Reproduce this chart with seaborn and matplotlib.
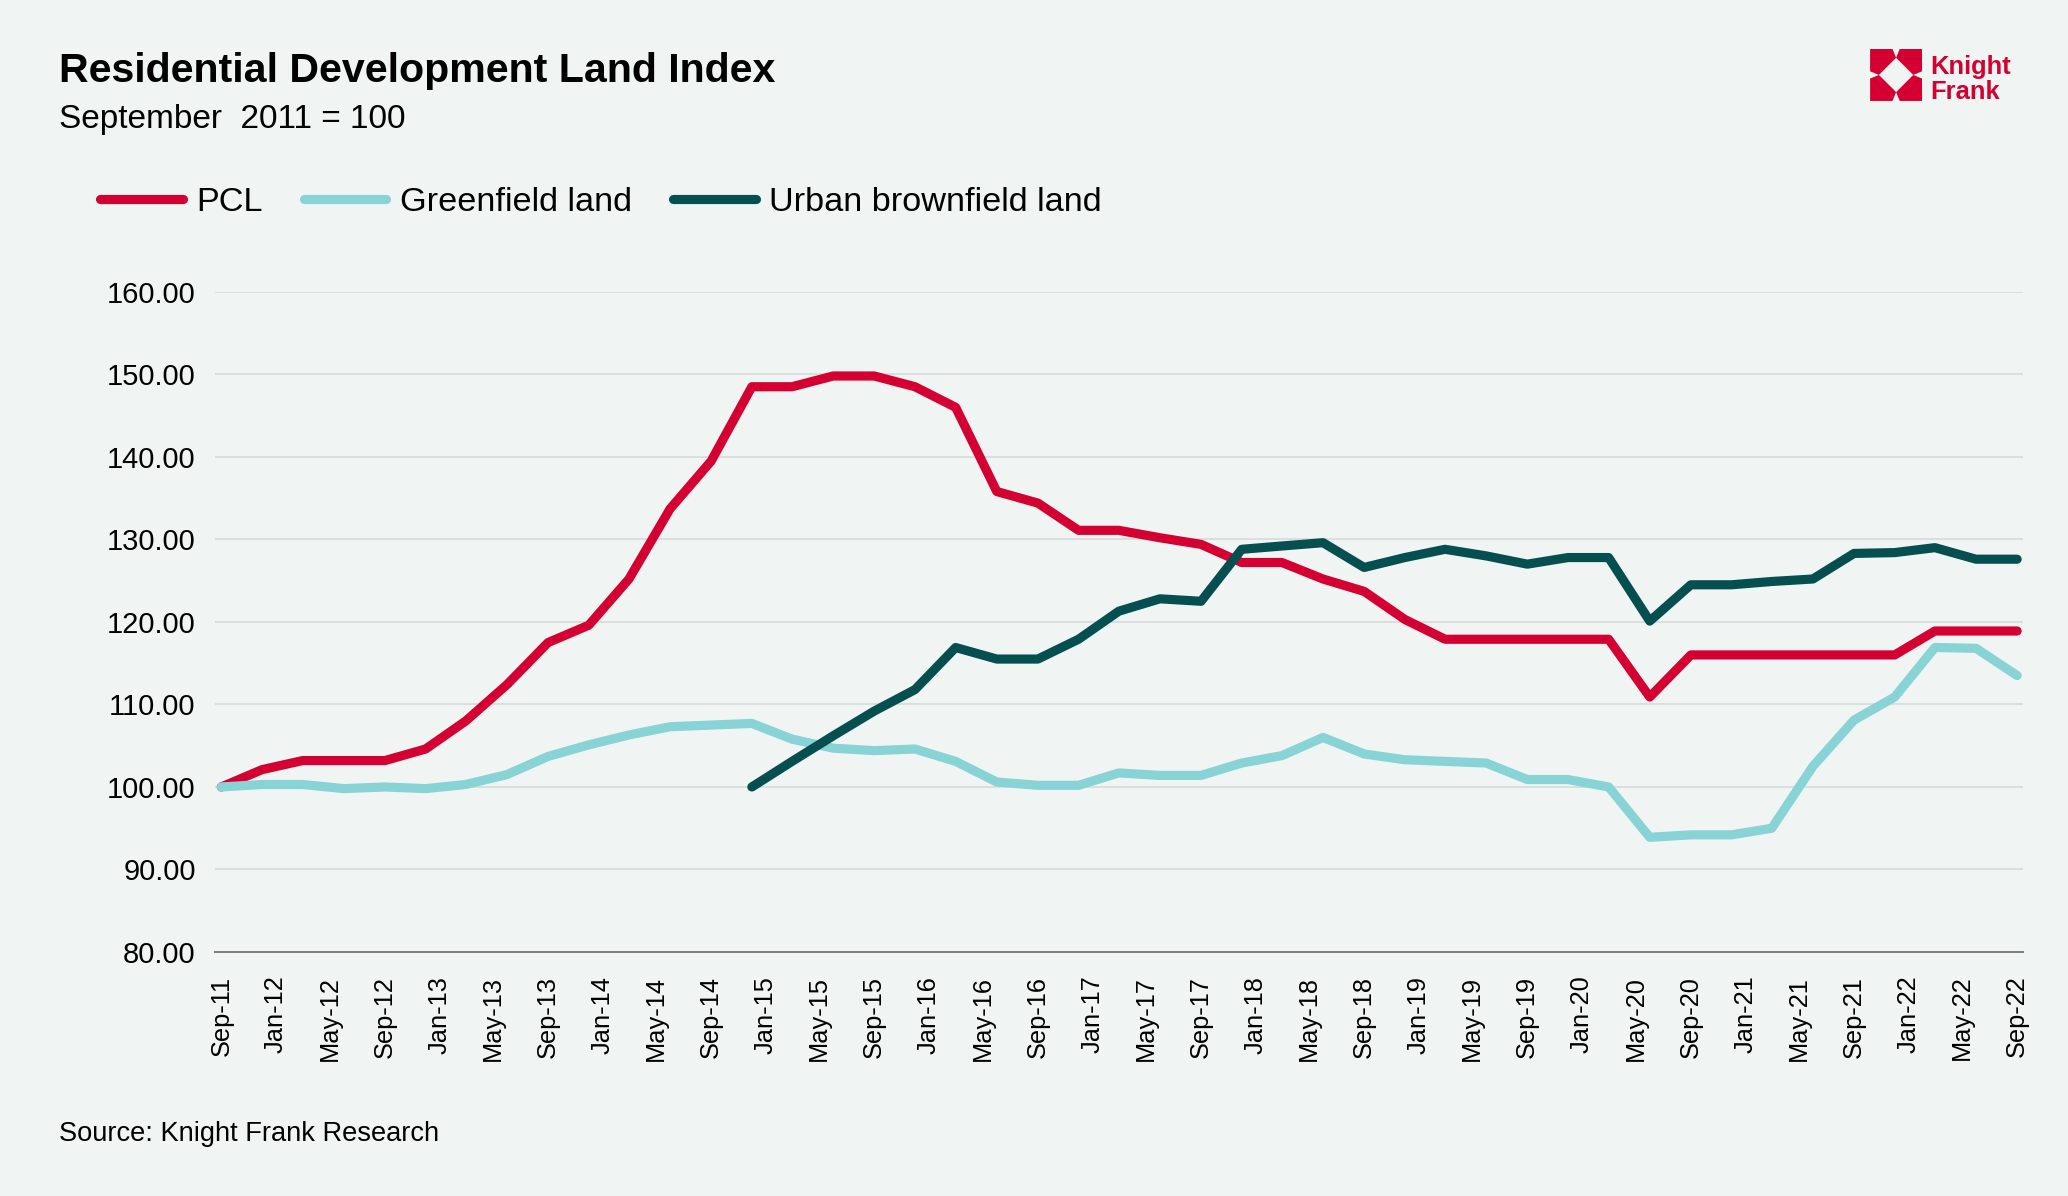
import numpy as np
import pandas as pd
import matplotlib
matplotlib.use('Agg')
import matplotlib.pyplot as plt
import matplotlib.dates as mdates
from matplotlib.patches import Polygon
import seaborn as sns

# quarterly index values, Sep-11 .. Sep-22
dates = pd.date_range('2011-09-01', '2022-09-01', freq='3MS')
pcl = [100.0, 102.1, 103.2, 103.2, 103.2, 104.6, 108.0, 112.4, 117.5, 119.6,
       125.2, 133.7, 139.5, 148.5, 148.5, 149.8, 149.8, 148.5, 146.0, 135.8,
       134.4, 131.1, 131.1, 130.2, 129.4, 127.2, 127.2, 125.2, 123.7, 120.3,
       117.9, 117.9, 117.9, 117.9, 117.9, 110.9, 116.0, 116.0, 116.0, 116.0,
       116.0, 116.0, 118.9, 118.9, 118.9]
greenfield = [100.0, 100.3, 100.3, 99.8, 100.0, 99.8, 100.3, 101.5, 103.7, 105.1,
              106.3, 107.3, 107.5, 107.7, 105.8, 104.7, 104.4, 104.6, 103.1, 100.6,
              100.2, 100.2, 101.7, 101.4, 101.4, 102.9, 103.8, 106.0, 104.0, 103.3,
              103.1, 102.9, 100.9, 100.9, 100.0, 93.9, 94.2, 94.2, 95.0, 102.5,
              108.1, 110.9, 116.9, 116.8, 113.5]
urban = [np.nan] * 13 + [100.0, 103.1, 106.2, 109.2, 111.8, 116.9, 115.5, 115.5,
                         117.9, 121.3, 122.8, 122.5, 128.8, 129.2, 129.6, 126.6,
                         127.8, 128.8, 128.0, 127.0, 127.8, 127.8, 120.1, 124.5,
                         124.5, 124.9, 125.2, 128.3, 128.4, 129.0, 127.6, 127.6]
series_names = ['PCL', 'Greenfield land', 'Urban brownfield land']
colors = ['#d50032', '#88d3d6', '#054f51']
y_ticks = [80, 90, 100, 110, 120, 130, 140, 150, 160]

df = pd.DataFrame({'date': dates, 'PCL': pcl, 'Greenfield land': greenfield,
                   'Urban brownfield land': urban})
long = df.melt(id_vars='date', var_name='series', value_name='index').dropna()

bg = '#f0f4f3'
sns.set_theme(style='white')
plt.rcParams['font.family'] = ['Liberation Sans', 'DejaVu Sans']
plt.rcParams['text.color'] = 'black'

fig = plt.figure(figsize=(20.68, 11.96), dpi=100, facecolor=bg)
ax = fig.add_axes([0.104, 0.204, 0.874, 0.552])
ax.set_facecolor(bg)

lw = 6.6
sns.lineplot(data=long, x='date', y='index', hue='series', hue_order=series_names,
             palette=colors, linewidth=lw, ax=ax)
for ln in ax.lines:
    ln.set_solid_capstyle('round')
    ln.set_solid_joinstyle('round')

ax.set_ylim(80, 160)
ax.set_yticks(y_ticks)
ax.yaxis.set_major_formatter(matplotlib.ticker.FormatStrFormatter('%.2f'))
ax.set_xlim(dates[0] - pd.Timedelta(days=14), dates[-1] + pd.Timedelta(days=12))
ax.xaxis.set_major_locator(mdates.MonthLocator(bymonth=[1, 5, 9]))
ax.xaxis.set_major_formatter(mdates.DateFormatter('%b-%y'))
ax.grid(axis='y', color='#d9dcdc', linewidth=1.3)
ax.set_axisbelow(True)
ax.set_xlabel('')
ax.set_ylabel('')
for s in ['top', 'right', 'left']:
    ax.spines[s].set_visible(False)
ax.spines['bottom'].set_color('#7a7a7a')
ax.spines['bottom'].set_linewidth(1.4)
ax.tick_params(axis='x', length=0, pad=17, labelsize=18.3, labelrotation=90, colors='black')
ax.tick_params(axis='y', length=0, pad=14, labelsize=21, colors='black')

handles, labels = ax.get_legend_handles_labels()
ax.get_legend().remove()
leg = fig.legend(handles, labels, loc='center left', bbox_to_anchor=(0.0485, 0.831),
                 ncol=3, frameon=False, fontsize=24.7, handlelength=2.4,
                 handletextpad=0.4, columnspacing=1.2, borderpad=0, borderaxespad=0)
for ln in leg.get_lines():
    ln.set_linewidth(lw)
    ln.set_solid_capstyle('round')
for t in leg.get_texts():
    t.set_color('black')

fig.text(0.0285, 0.9314, 'Residential Development Land Index', fontsize=29.6,
         fontweight='bold', va='baseline', ha='left', color='black')
fig.text(0.0285, 0.893, 'September  2011 = 100', fontsize=24, va='baseline', ha='left',
         color='black')
fig.text(0.0285, 0.046, 'Source: Knight Frank Research', fontsize=19.6, va='baseline',
         ha='left', color='black')

# logo
red = '#d50032'
lax = fig.add_axes([0.9043, 0.9156, 0.02515, 0.04348])
lax.set_xlim(0, 1)
lax.set_ylim(0, 1)
lax.axis('off')
base = np.array([[0, 0], [0.43, 0], [0.5, 0.17], [0.17, 0.5], [0, 0.43]])
for fx, fy in [(1, 1), (-1, 1), (1, -1), (-1, -1)]:
    pts = base.copy()
    if fx < 0:
        pts[:, 0] = 1 - pts[:, 0]
    if fy < 0:
        pts[:, 1] = 1 - pts[:, 1]
    lax.add_patch(Polygon(pts, closed=True, color=red, lw=0))
fig.text(0.9333, 0.938, 'Knight', fontsize=18.4, fontweight='bold', color=red, va='baseline')
fig.text(0.9333, 0.917, 'Frank', fontsize=18.4, fontweight='bold', color=red, va='baseline')

fig.savefig('out.png', dpi=100, facecolor=bg)
